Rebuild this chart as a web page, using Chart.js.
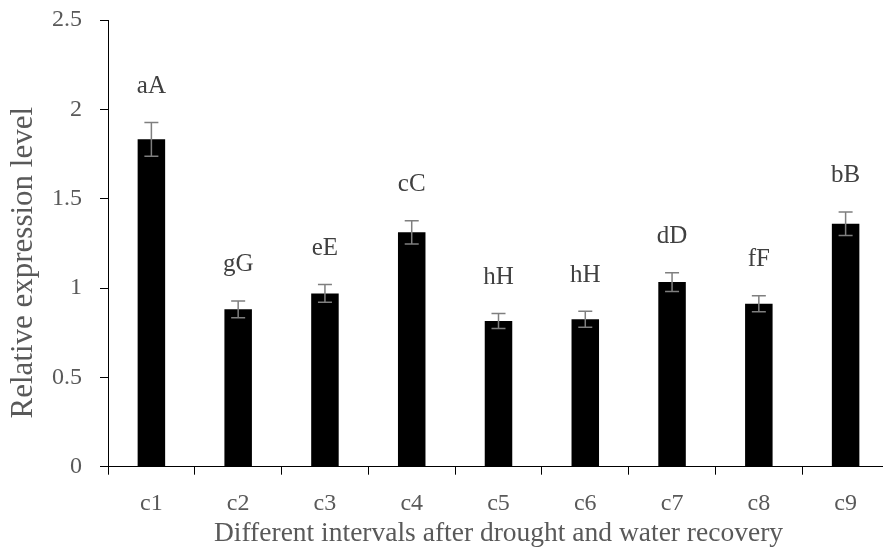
<!DOCTYPE html>
<html><head><meta charset="utf-8">
<script src="https://cdn.jsdelivr.net/npm/chart.js@4"></script>
<style>html,body{margin:0;padding:0;background:#fff;overflow:hidden;width:883px;height:552px}#wrap{width:890px;height:552px;position:relative}</style>
</head><body><div id="wrap"><canvas id="c" width="890" height="552"></canvas></div>
<script>
const categories = ["c1","c2","c3","c4","c5","c6","c7","c8","c9"];
const values = [1.832, 0.881, 0.970, 1.312, 0.815, 0.825, 1.033, 0.912, 1.360];
const errors = [0.095, 0.047, 0.050, 0.065, 0.042, 0.045, 0.053, 0.045, 0.066];
const letters = ["aA","gG","eE","cC","hH","hH","dD","fF","bB"];
const yTicks = [0, 0.5, 1, 1.5, 2, 2.5];

const FONT = "'Liberation Serif','Times New Roman',serif";

const errPlugin = {
  id: 'err',
  afterDatasetsDraw(chart) {
    const ctx = chart.ctx, y = chart.scales.y, meta = chart.getDatasetMeta(0);
    ctx.save();
    meta.data.forEach((bar, i) => {
      const x = bar.x;
      const t = y.getPixelForValue(values[i] + errors[i]);
      const b = y.getPixelForValue(values[i] - errors[i]);
      ctx.strokeStyle = '#7f7f7f';
      ctx.lineWidth = 1.5;
      ctx.beginPath();
      ctx.moveTo(x, t); ctx.lineTo(x, b);
      ctx.moveTo(x - 7, t); ctx.lineTo(x + 7, t);
      ctx.moveTo(x - 7, b); ctx.lineTo(x + 7, b);
      ctx.stroke();
      ctx.fillStyle = '#404040';
      ctx.font = '25px ' + FONT;
      ctx.textAlign = 'center';
      ctx.textBaseline = 'middle';
      ctx.fillText(letters[i], x, t - 36);
    });
    ctx.restore();
  }
};

new Chart(document.getElementById('c'), {
  type: 'bar',
  data: { labels: categories, datasets: [{ data: values, backgroundColor: '#000', borderWidth: 0, barPercentage: 0.634, categoryPercentage: 0.5 }] },
  options: {
    responsive: false, animation: false,
    layout: { padding: { top: 20, right: 1, left: 0, bottom: 0 } },
    plugins: { legend: { display: false }, tooltip: { enabled: false } },
    scales: {
      x: {
        offset: true,
        grid: { offset: true, drawOnChartArea: false, drawTicks: true, tickLength: 8, color: '#000', lineWidth: 1 },
        border: { display: true, color: '#000', width: 1 },
        ticks: { color: '#595959', font: { family: FONT, size: 24 }, padding: 15 },
        title: { display: true, text: 'Different intervals after drought and water recovery', color: '#595959', font: { family: FONT, size: 27.5 }, padding: { top: 0, bottom: 1.5 } },
        afterFit(s) { s.height = 85.3; s.paddingLeft = 0; s.paddingRight = 0; }
      },
      y: {
        min: 0, max: 2.5,
        afterBuildTicks(s) { s.ticks = yTicks.map(v => ({ value: v })); },
        grid: { drawOnChartArea: false, drawTicks: true, tickLength: 8, color: '#000', lineWidth: 1 },
        border: { display: true, color: '#000', width: 1 },
        ticks: { color: '#595959', font: { family: FONT, size: 24 }, padding: 18, callback: v => String(v) },
        title: { display: true, text: 'Relative expression level     ', color: '#595959', font: { family: FONT, size: 31 }, padding: { top: 5, bottom: 0 } },
        afterFit(s) { s.width = 108; s.paddingTop = 0; s.paddingBottom = 0; }
      }
    }
  },
  plugins: [errPlugin]
});
</script></body></html>
